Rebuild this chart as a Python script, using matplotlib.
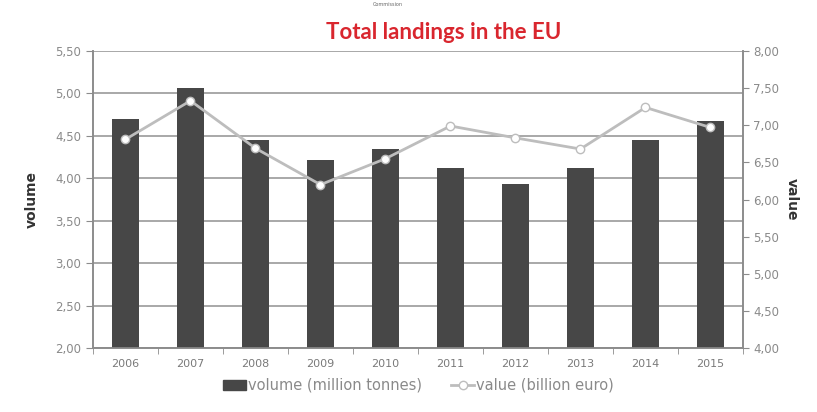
import matplotlib.pyplot as plt
import numpy as np
from matplotlib.lines import Line2D
from matplotlib.patches import Patch

years = ["2006", "2007", "2008", "2009", "2010", "2011", "2012", "2013", "2014", "2015"]
volume = [4.70, 5.06, 4.45, 4.21, 4.34, 4.12, 3.93, 4.12, 4.45, 4.67]  # million tonnes
value = [6.81, 7.33, 6.69, 6.20, 6.55, 6.99, 6.83, 6.68, 7.24, 6.97]   # billion euro

cinza = "#8c8c8c"
barra = "#474747"
linha = "#bdbdbd"

fig = plt.figure(figsize=(8.17, 4.12), dpi=100)
ax = fig.add_axes([0.1138, 0.1553, 0.7956, 0.7209])
x = np.arange(len(years))

ax.bar(x, volume, width=0.41, color=barra, zorder=3)
ax.set_ylim(2.0, 5.5)
ax.set_yticks(np.arange(2.0, 5.51, 0.5))
ax.set_yticklabels([f"{v:.2f}".replace(".", ",") for v in np.arange(2.0, 5.51, 0.5)])
ax.set_xlim(-0.5, len(years) - 0.5)
ax.set_xticks(x)
ax.set_xticklabels(years)
ax.set_xticks(np.arange(-0.5, len(years), 1), minor=True)
ax.tick_params(axis="x", which="major", length=0, colors="#7a7a7a", labelsize=8, pad=8)
ax.tick_params(axis="x", which="minor", length=4, color=cinza, direction="out")
ax.tick_params(axis="y", length=5, color=cinza, colors="#8a8a8a", labelsize=8.5)
ax.yaxis.grid(True, color="#9a9a9a", linewidth=1.2, zorder=0)
ax.spines["top"].set_visible(False)
for s in ["left", "bottom", "right"]:
    ax.spines[s].set_color(cinza)
    ax.spines[s].set_linewidth(1.2)
ax.set_ylabel("volume", fontsize=10, fontweight="bold", color="#333333", labelpad=12)

ax2 = ax.twinx()
ax2.plot(x, value, color=linha, linewidth=2, marker="o", markersize=6,
         markerfacecolor="white", markeredgecolor=linha, zorder=4)
ax2.set_ylim(4.0, 8.0)
ax2.set_yticks(np.arange(4.0, 8.01, 0.5))
ax2.set_yticklabels([f"{v:.2f}".replace(".", ",") for v in np.arange(4.0, 8.01, 0.5)])
ax2.tick_params(axis="y", length=4, color=cinza, colors="#8a8a8a", labelsize=8.5)
ax2.spines["top"].set_visible(False)
for s in ["left", "bottom", "right"]:
    ax2.spines[s].set_color(cinza)
    ax2.spines[s].set_linewidth(1.2)
ax2.set_ylabel("value", fontsize=10, fontweight="bold", color="#333333", rotation=-90, labelpad=14)

# titulo
fig.text(0.543, 0.922, "Total landings in the EU", ha="center", va="center",
         fontsize=16, fontweight="bold", color="#d9262e", family="Lato")
fig.text(0.475, 0.988, "Commission", ha="center", va="center", fontsize=3.5, color="#666666")

# legenda
handles = [Patch(color=barra),
           Line2D([0], [0], color=linha, lw=2, marker="o", markerfacecolor="white", markeredgecolor=linha)]
fig.legend(handles, ["volume (million tonnes)", "value (billion euro)"], loc="center",
           bbox_to_anchor=(0.512, 0.065), ncol=2, frameon=False, fontsize=10.5,
           labelcolor="#8a8a8a", handlelength=1.6, handletextpad=0.1, columnspacing=2)

plt.savefig("out.png", dpi=100)
